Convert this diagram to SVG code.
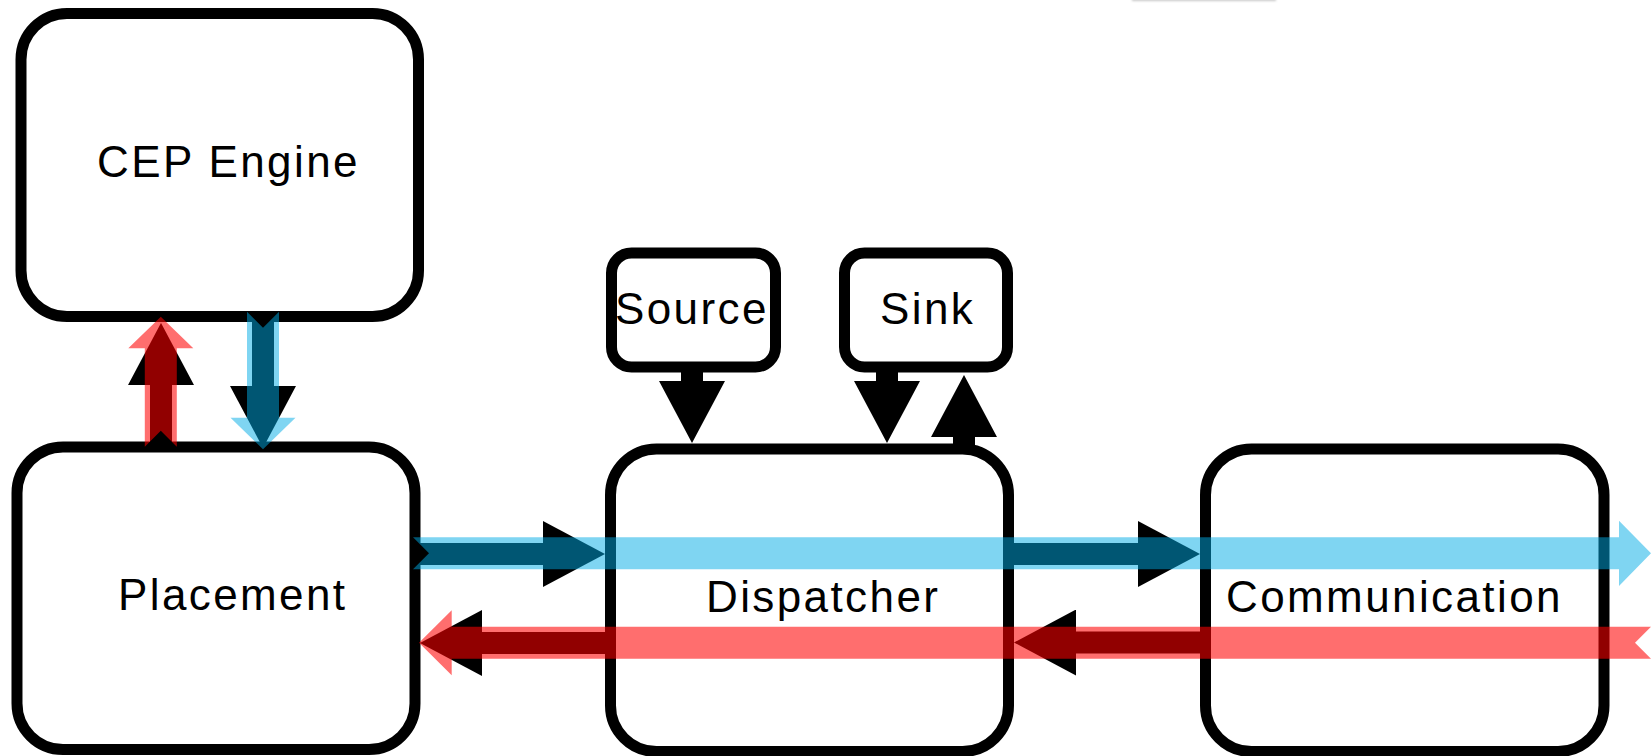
<svg xmlns="http://www.w3.org/2000/svg" width="1651" height="756" viewBox="0 0 1651 756">
  <style>
    .box { fill: #ffffff; stroke: #000000; stroke-width: 11; }
    .label { font-family: "Liberation Sans", Arial, sans-serif; font-size: 44px; letter-spacing: 2.4px; fill: #000000; }
    .wire { fill: none; stroke: #000000; stroke-width: 22; stroke-linecap: butt; }
    .flow-out { fill: rgb(0,172,230); fill-opacity: 0.5; }
    .flow-in { fill: rgb(255,0,0); fill-opacity: 0.57; }
  </style>
  <defs>
    <marker id="head" markerUnits="userSpaceOnUse" markerWidth="62" markerHeight="66" viewBox="0 0 62 66" refX="0" refY="33" orient="auto">
      <path d="M0,0 L62,33 L0,66 Z" fill="#000000"/>
    </marker>
    <filter id="soft" x="-10%" y="-200%" width="120%" height="500%">
      <feGaussianBlur stdDeviation="1"/>
    </filter>
  </defs>

  <rect width="1651" height="756" fill="#ffffff"/>

  <!-- edge of a panel just above the canvas -->
  <rect x="1132" y="-4" width="144" height="5" fill="#c8c8c8" filter="url(#soft)"/>

  <g id="cep-engine">
    <rect class="box" x="21" y="13.5" width="397.5" height="303" rx="46" ry="46"/>
    <text class="label" x="97" y="177">CEP Engine</text>
  </g>

  <g id="placement">
    <rect class="box" x="17" y="447" width="398" height="302.5" rx="46" ry="46"/>
    <text class="label" x="118" y="609.5">Placement</text>
  </g>

  <g id="dispatcher">
    <rect class="box" x="610.5" y="449" width="398" height="302.5" rx="46" ry="46"/>
    <text class="label" x="706" y="611.5">Dispatcher</text>
  </g>

  <g id="communication">
    <rect class="box" x="1205.5" y="449" width="398.5" height="302.5" rx="46" ry="46"/>
    <text class="label" x="1226" y="611.5">Communication</text>
  </g>

  <g id="source">
    <rect class="box" x="611.5" y="253" width="164" height="114" rx="20" ry="20"/>
    <text class="label" x="615" y="324">Source</text>
  </g>

  <g id="sink">
    <rect class="box" x="844.5" y="253" width="163" height="114" rx="20" ry="20"/>
    <text class="label" x="880" y="324">Sink</text>
  </g>

  <g id="connectors">
    <!-- black links between components -->
    <line class="wire" x1="161" y1="447" x2="161" y2="385" marker-end="url(#head)"/>
    <line class="wire" x1="263" y1="317" x2="263" y2="386" marker-end="url(#head)"/>
    <line class="wire" x1="692" y1="366" x2="692" y2="381" marker-end="url(#head)"/>
    <line class="wire" x1="887" y1="366" x2="887" y2="381" marker-end="url(#head)"/>
    <line class="wire" x1="964" y1="450" x2="964" y2="437" marker-end="url(#head)"/>
    <line class="wire" x1="415" y1="554" x2="543" y2="554" marker-end="url(#head)"/>
    <line class="wire" x1="1008.5" y1="554" x2="1138" y2="554" marker-end="url(#head)"/>
    <line class="wire" x1="1205.5" y1="642.5" x2="1076" y2="642.5" marker-end="url(#head)"/>
    <line class="wire" x1="610.5" y1="643" x2="482" y2="643" marker-end="url(#head)"/>

    <!-- outgoing flow (blue) -->
    <polygon class="flow-out" points="247,311.7 263,327.7 279,311.7 279,417.7 295.5,417.7 263,449.3 230.5,417.7 247,417.7"/>
    <polygon class="flow-out" points="413,537.3 1619,537.3 1619,520.7 1651,553.3 1619,586 1619,569.3 413,569.3 429,553.3"/>

    <!-- incoming flow (red) -->
    <polygon class="flow-in" points="144.8,446.7 144.8,348.3 128.3,348.3 160.8,316.7 193.3,348.3 176.8,348.3 176.8,446.7 160.8,430.7"/>
    <polygon class="flow-in" points="1651,626.7 451.7,626.7 451.7,610.2 419,642.7 451.7,675.2 451.7,658.7 1651,658.7 1635,642.7"/>
  </g>
</svg>
